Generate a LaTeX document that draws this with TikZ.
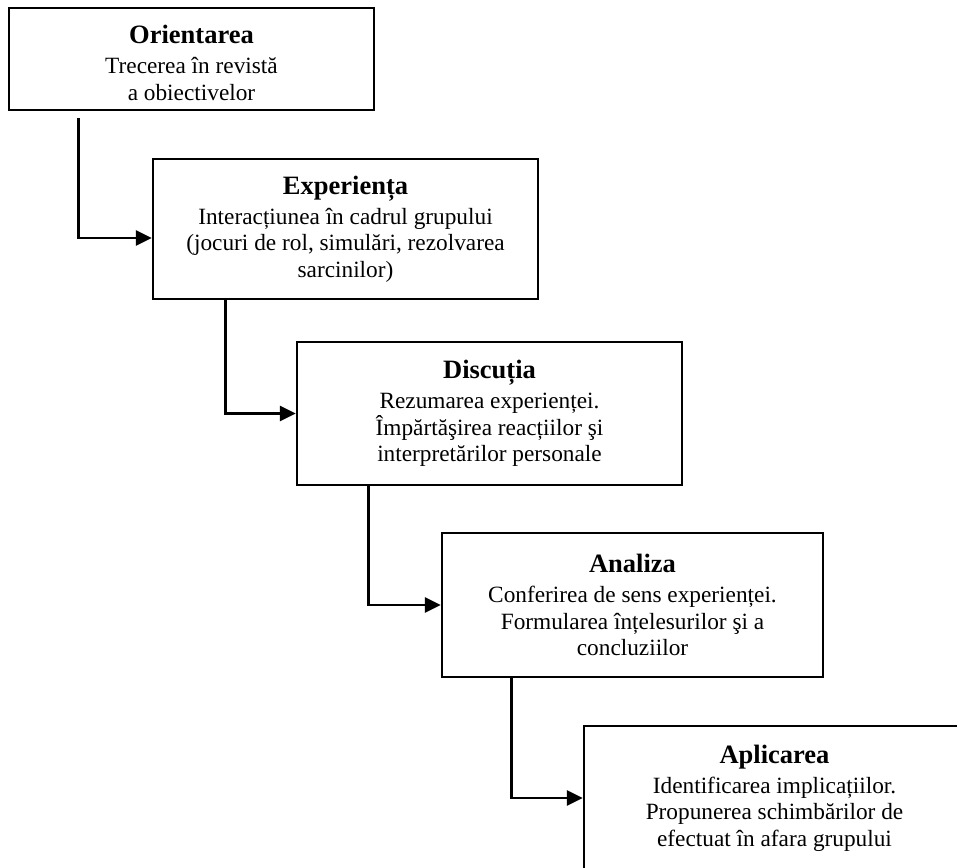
\documentclass[tikz,border=0pt]{standalone}
\usepackage{fontspec}
\setmainfont{Liberation Serif}
\usepackage{tikz}
\usetikzlibrary{arrows.meta,positioning,calc}

\newcommand{\stagetitle}[1]{{\fontsize{26.5}{30}\selectfont\textbf{#1}}\\[3.5pt]}

\begin{document}
\begin{tikzpicture}[
    x=1pt, y=1pt,
    stage/.style={rectangle, draw=black, line width=2.4pt, fill=white, align=center, inner sep=0pt, font=\fontsize{23.3}{26.5}\selectfont},
    arrow/.style={line width=2.8pt, -{Triangle[length=16pt,width=15pt]}}
]
\useasboundingbox (0,0) rectangle (957,-867);
\clip (0,0) rectangle (957,-867);
% Stages (stepwise down to the right)
\node[stage, minimum width=365pt, minimum height=102pt] (orient) at (191.5,-59) {\stagetitle{\rule{0pt}{26pt}Orientarea} Trecerea în revistă\\ a obiectivelor};
\node[stage, minimum width=385pt, minimum height=140pt] (exper) at (345.5,-229) {\stagetitle{Experiența} Interacțiunea în cadrul grupului\\ (jocuri de rol, simulări, rezolvarea\\ sarcinilor)};
\node[stage, minimum width=385pt, minimum height=143pt] (discut) at (489.5,-413.5) {\stagetitle{Discuția} Rezumarea experienței.\\ Împărtăşirea reacțiilor şi\\ interpretărilor personale};
\node[stage, minimum width=381pt, minimum height=144pt] (analiza) at (632.5,-605) {\stagetitle{Analiza} Conferirea de sens experienței.\\ Formularea înțelesurilor şi a\\ concluziilor};
\node[stage, minimum width=381pt, minimum height=144pt] (aplic) at (774.5,-798) {\stagetitle{Aplicarea} Identificarea implicațiilor.\\ Propunerea schimbărilor de\\ efectuat în afara grupului};
% Arrows
\draw[arrow] ($(orient.south west)+(71,-7)$) |- ([yshift=-9pt]exper.west);
\draw[arrow] ($(exper.south west)+(74,0)$) |- (discut.west);
\draw[arrow] ($(discut.south west)+(73,0)$) |- (analiza.west);
\draw[arrow] ($(analiza.south west)+(71,0)$) |- (aplic.west);
\end{tikzpicture}
\end{document}
